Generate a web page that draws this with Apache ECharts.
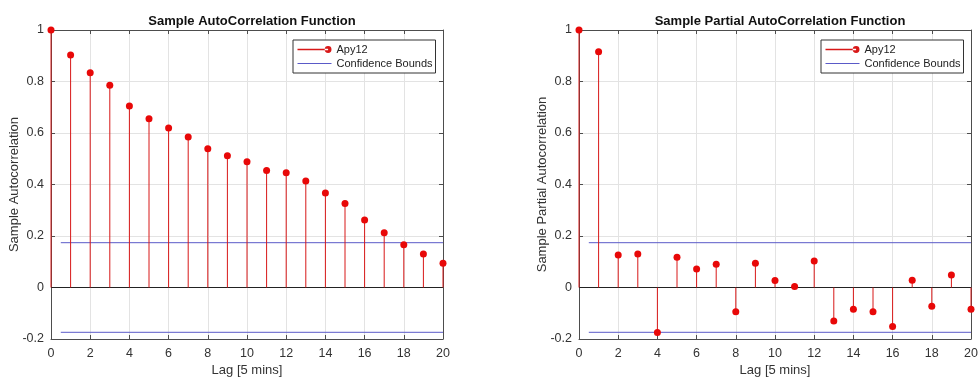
<!DOCTYPE html>
<html>
<head>
<meta charset="utf-8">
<script src="https://cdn.jsdelivr.net/npm/echarts@6/dist/echarts.min.js"></script>
<style>
  html, body { margin: 0; padding: 0; background: #fff; }
  #wrap { width: 978px; height: 379px; display: flex; }
  .plot { width: 489px; height: 379px; }
</style>
</head>
<body>
<div id="wrap">
  <div id="acf" class="plot"></div>
  <div id="pacf" class="plot"></div>
</div>
<script>
// lags 0..20 (5 min steps)
var lags = [0, 1, 2, 3, 4, 5, 6, 7, 8, 9, 10, 11, 12, 13, 14, 15, 16, 17, 18, 19, 20];
var acfValues = [1, 0.903, 0.834, 0.785, 0.705, 0.655, 0.619, 0.584, 0.539, 0.512, 0.488,
    0.454, 0.446, 0.414, 0.367, 0.326, 0.262, 0.213, 0.166, 0.130, 0.094];
var pacfValues = [1, 0.916, 0.126, 0.130, -0.175, 0.117, 0.072, 0.090, -0.094, 0.094, 0.027,
    0.004, 0.103, -0.130, -0.084, -0.094, -0.151, 0.028, -0.073, 0.049, -0.084];
var confBound = 0.174;
var boundLags = [0.5, 20];
var xTicks = [0, 2, 4, 6, 8, 10, 12, 14, 16, 18, 20];
var yTicks = [-0.2, 0, 0.2, 0.4, 0.6, 0.8, 1];

var stemColor = '#d81818';
var boundColor = '#5a5ac8';
var axisColor = '#4d4d4d';
var font = 'Arial, "Liberation Sans", sans-serif';

function makeChart(domID, title, yName, values, gridLeft) {
    var dom = document.getElementById(domID);
    var myChart = echarts.init(dom);
    var points = lags.map(function (l, i) { return [l, values[i]]; });
    var upper = boundLags.map(function (l) { return [l, confBound]; });
    var lower = boundLags.map(function (l) { return [l, -confBound]; });
    var gridW = 392;
    var xAxisBase = {
        type: 'value', gridIndex: 0,
        min: xTicks[0], max: xTicks[xTicks.length - 1], interval: 2,
        axisLine: { onZero: false, lineStyle: { color: axisColor, width: 1 } },
        axisTick: { inside: true, length: 4, lineStyle: { color: axisColor } }
    };
    var yAxisBase = {
        type: 'value', gridIndex: 0,
        min: yTicks[0], max: yTicks[yTicks.length - 1], interval: 0.2,
        axisLine: { show: true, onZero: false, lineStyle: { color: axisColor, width: 1 } },
        axisTick: { show: true, inside: true, length: 4, lineStyle: { color: axisColor } }
    };
    var option = {
        backgroundColor: '#ffffff',
        animation: false,
        textStyle: { fontFamily: font },
        title: {
            text: title,
            left: gridLeft + gridW / 2,
            textAlign: 'center',
            top: 10,
            textStyle: { fontSize: 13, fontWeight: 'bold', color: '#111', fontFamily: font }
        },
        legend: {
            orient: 'vertical',
            left: gridLeft + 242,
            top: 40,
            padding: [4, 3, 4, 4],
            itemGap: 3,
            itemWidth: 34,
            itemHeight: 7,
            backgroundColor: '#ffffff',
            borderColor: '#333',
            borderWidth: 1,
            borderRadius: 0,
            textStyle: { fontSize: 11, color: '#222', fontFamily: font },
            data: [
                { name: 'Apy12', icon: 'path://M0,3.4H27V4.6H0Z M24,4a3,3 0 1,0 6,0a3,3 0 1,0 -6,0Z' },
                { name: 'Confidence Bounds', itemStyle: { opacity: 0 }, lineStyle: { width: 1 } }
            ]
        },
        grid: { left: gridLeft, top: 30, width: gridW, height: 309, show: false, outerBoundsMode: 'none' },
        xAxis: [
            Object.assign({}, xAxisBase, {
                position: 'bottom',
                name: 'Lag [5 mins]',
                nameLocation: 'middle',
                nameGap: 25,
                nameMoveOverlap: false,
                nameTextStyle: { fontSize: 13, color: '#333', fontFamily: font },
                axisLabel: { fontSize: 12.5, color: '#333', margin: 8, fontFamily: font },
                splitLine: { show: true, lineStyle: { color: '#e3e3e3', width: 1 } }
            }),
            Object.assign({}, xAxisBase, {
                position: 'top',
                axisLabel: { show: false },
                splitLine: { show: false }
            })
        ],
        yAxis: [
            Object.assign({}, yAxisBase, {
                position: 'left',
                name: yName,
                nameLocation: 'middle',
                nameGap: 30,
                nameMoveOverlap: false,
                nameTextStyle: { fontSize: 13, color: '#333', fontFamily: font },
                axisLabel: { fontSize: 12.5, color: '#333', margin: 7, fontFamily: font },
                splitLine: { show: true, lineStyle: { color: '#e3e3e3', width: 1 } }
            }),
            Object.assign({}, yAxisBase, {
                position: 'right',
                axisLabel: { show: false },
                splitLine: { show: false }
            })
        ],
        series: [
            {
                name: 'Apy12',
                type: 'custom',
                xAxisIndex: 0, yAxisIndex: 0,
                itemStyle: { color: stemColor },
                renderItem: function (params, api) {
                    var p0 = api.coord([api.value(0), 0]);
                    var p1 = api.coord([api.value(0), api.value(1)]);
                    return {
                        type: 'line',
                        shape: { x1: p0[0], y1: p0[1], x2: p1[0], y2: p1[1] },
                        style: { stroke: stemColor, lineWidth: 1 }
                    };
                },
                data: points,
                markLine: {
                    silent: true,
                    symbol: 'none',
                    label: { show: false },
                    lineStyle: { color: '#222', width: 1, type: 'solid' },
                    data: [{ yAxis: 0 }],
                    z: 1
                },
                z: 3
            },
            {
                name: 'Apy12',
                type: 'scatter',
                xAxisIndex: 0, yAxisIndex: 0,
                symbolSize: 7,
                itemStyle: { color: '#e80808', opacity: 1 },
                data: points,
                z: 4
            },
            {
                name: 'Confidence Bounds',
                type: 'line',
                xAxisIndex: 0, yAxisIndex: 0,
                symbol: 'none',
                lineStyle: { color: boundColor, width: 1 },
                itemStyle: { color: boundColor },
                data: upper,
                z: 2
            },
            {
                name: 'Confidence Bounds',
                type: 'line',
                xAxisIndex: 0, yAxisIndex: 0,
                symbol: 'none',
                lineStyle: { color: boundColor, width: 1 },
                itemStyle: { color: boundColor },
                data: lower,
                z: 2
            }
        ]
    };
    if (option && typeof option === "object") {
        myChart.setOption(option, true);
    }
    return myChart;
}

makeChart('acf', 'Sample AutoCorrelation Function', 'Sample Autocorrelation', acfValues, 51);
makeChart('pacf', 'Sample Partial AutoCorrelation Function', 'Sample Partial Autocorrelation', pacfValues, 90);
</script>
</body>
</html>
